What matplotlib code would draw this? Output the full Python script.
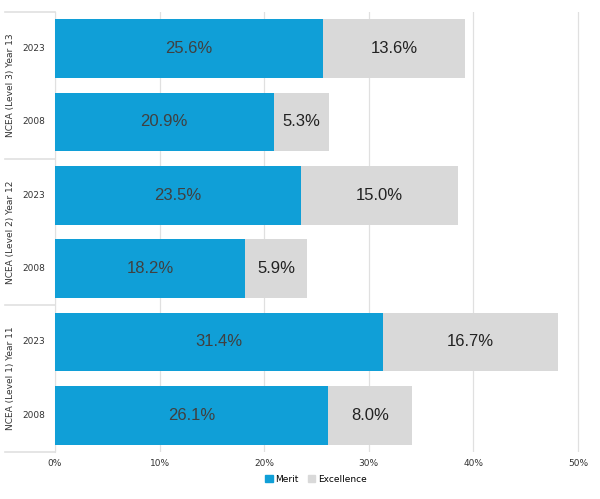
import numpy as np
import matplotlib.pyplot as plt
from matplotlib.lines import Line2D

groups = ["NCEA (Level 3) Year 13", "NCEA (Level 2) Year 12", "NCEA (Level 1) Year 11"]
years = ["2023", "2008"]
merit = [25.6, 20.9, 23.5, 18.2, 31.4, 26.1]
excellence = [13.6, 5.3, 15.0, 5.9, 16.7, 8.0]
xticks = [0, 10, 20, 30, 40, 50]

BLUE = "#109fd7"
GREY = "#d9d9d9"
LINE = "#e0e0e0"

fig = plt.figure(figsize=(6.0, 4.99), dpi=100)
ax = fig.add_axes([55 / 600, 1 - 452 / 499, (580 - 55) / 600, 440 / 499])

n = len(merit)
y = np.arange(n)
ax.barh(y, merit, height=0.8, color=BLUE, zorder=3, label="Merit")
ax.barh(y, excellence, left=merit, height=0.8, color=GREY, zorder=3, label="Excellence")

for i in range(n):
    ax.text(merit[i] / 2, y[i], f"{merit[i]:.1f}%", ha="center", va="center",
            fontsize=12, color="#404040", family="Liberation Sans", zorder=4)
    ax.text(merit[i] + excellence[i] / 2, y[i], f"{excellence[i]:.1f}%", ha="center",
            va="center", fontsize=12, color="#222222", family="Liberation Sans", zorder=4)

ax.set_xlim(0, 50.2)
ax.set_ylim(n - 0.5, -0.5)
ax.set_xticks(xticks)
ax.set_xticklabels([f"{t}%" for t in xticks], fontsize=6.5, color="#333333")
ax.set_yticks([])
ax.tick_params(axis="x", length=0, pad=5)
ax.grid(axis="x", color=LINE, lw=0.9, zorder=0)
for s in ["top", "right", "bottom"]:
    ax.spines[s].set_visible(False)
ax.spines["left"].set_color(LINE)

# year labels and group labels on the left
for i in range(n):
    ax.text(-0.9, y[i], years[i % 2], ha="right", va="center", fontsize=6.5,
            color="#333333", clip_on=False)
for g, name in enumerate(groups):
    ax.text(-4.3, 2 * g + 0.5, name, rotation=90, ha="center", va="center",
            fontsize=6.5, color="#333333", clip_on=False)
for b in [-0.5, 1.5, 3.5, 5.5]:
    ax.add_line(Line2D([-4.8, 0], [b, b], color=LINE, lw=1.2, clip_on=False))

handles = [plt.Rectangle((0, 0), 1, 1, color=BLUE), plt.Rectangle((0, 0), 1, 1, color=GREY)]
fig.legend(handles, ["Merit", "Excellence"], loc="center", bbox_to_anchor=(316 / 600, 1 - 479 / 499),
           ncol=2, frameon=False, fontsize=6.5, handlelength=0.8, handleheight=0.8,
           handletextpad=0.3, columnspacing=1.0)

fig.savefig("out.png", dpi=100)
